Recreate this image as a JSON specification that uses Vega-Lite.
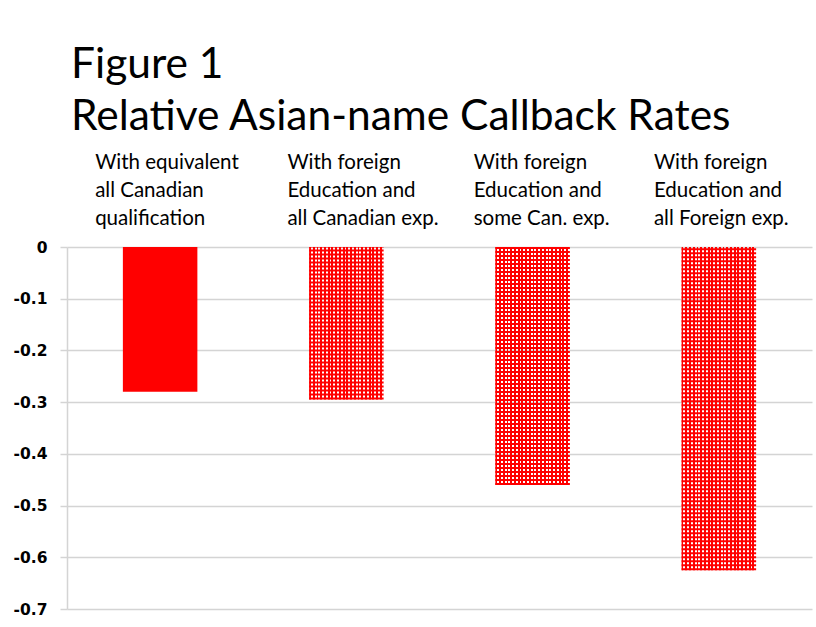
{
  "$schema": "https://vega.github.io/schema/vega-lite/v6.json",
  "width": 745,
  "height": 362,
  "autosize": {"type": "none"},
  "padding": {"left": 67, "top": 247, "right": 4, "bottom": 18},
  "background": "white",
  "config": {"view": {"stroke": null}},
  "title": {
    "text": ["Figure 1", "Relative Asian-name Callback Rates"],
    "anchor": "start",
    "frame": "group",
    "font": "Lato",
    "fontSize": 42.5,
    "fontWeight": "normal",
    "color": "#000000",
    "lineHeight": 52,
    "dx": 4,
    "offset": 14
  },
  "data": {
    "values": [
      {"cat": "With equivalent|all Canadian|qualification", "value": -0.28, "pattern": "solid"},
      {"cat": "With foreign|Education and|all Canadian exp.", "value": -0.295, "pattern": "checked"},
      {"cat": "With foreign|Education and|some Can. exp.", "value": -0.46, "pattern": "checked"},
      {"cat": "With foreign|Education and|all Foreign exp.", "value": -0.625, "pattern": "checked"}
    ]
  },
  "encoding": {
    "x": {
      "field": "cat",
      "type": "nominal",
      "sort": null,
      "scale": {"paddingInner": 0.6, "paddingOuter": 0.3},
      "axis": {
        "orient": "top",
        "title": null,
        "domain": false,
        "ticks": false,
        "grid": false,
        "labelAngle": 0,
        "labelExpr": "split(datum.label, '|')",
        "labelAlign": "left",
        "labelOffset": {
          "condition": {"test": "indexof(datum.value, 'equivalent') >= 0 || indexof(datum.value, 'Foreign') >= 0", "value": -65},
          "value": -59
        },
        "labelFont": "Lato",
        "labelFontSize": 20.5,
        "labelLineHeight": 28,
        "labelColor": "#000000",
        "labelPadding": 79,
        "labelBaseline": "alphabetic",
        "labelLimit": 0,
        "labelOverlap": false
      }
    },
    "y": {
      "field": "value",
      "type": "quantitative",
      "scale": {"domain": [-0.7, 0], "nice": false},
      "axis": {
        "title": null,
        "values": [0, -0.1, -0.2, -0.3, -0.4, -0.5, -0.6, -0.7],
        "labelExpr": "datum.value == 0 ? '0' : '-0.' + round(-datum.value * 10)",
        "labelFont": "DejaVu Sans",
        "labelFontWeight": "bold",
        "labelFontSize": 15.5,
        "labelColor": "#000000",
        "labelPadding": 13,
        "tickSize": 7,
        "tickColor": "#d4d4d4",
        "tickWidth": 1.5,
        "domainColor": "#d4d4d4",
        "domainWidth": 1.5,
        "grid": true,
        "gridColor": "#d4d4d4",
        "gridWidth": 1.5
      }
    }
  },
  "layer": [
    {
      "transform": [{"filter": "datum.pattern == 'solid'"}],
      "mark": {"type": "bar", "color": "#ff0000"}
    },
    {
      "transform": [{"filter": "datum.pattern == 'checked'"}],
      "mark": {"type": "rule", "color": "#ff0000", "strokeWidth": 74.5, "strokeDash": [2, 2]},
      "encoding": {"y2": {"datum": 0}}
    },
    {
      "transform": [{"filter": "datum.pattern == 'checked'"}],
      "mark": {
        "type": "bar",
        "stroke": null,
        "fill": {
          "gradient": "linear",
          "x1": 0, "y1": 0, "x2": 1, "y2": 0,
          "stops": [
            {"offset": 0, "color": "#ff0000"}, {"offset": 0.025, "color": "#ff0000"}, {"offset": 0.025, "color": "rgba(255,0,0,0)"}, {"offset": 0.05, "color": "rgba(255,0,0,0)"},
            {"offset": 0.05, "color": "#ff0000"}, {"offset": 0.075, "color": "#ff0000"}, {"offset": 0.075, "color": "rgba(255,0,0,0)"}, {"offset": 0.1, "color": "rgba(255,0,0,0)"},
            {"offset": 0.1, "color": "#ff0000"}, {"offset": 0.125, "color": "#ff0000"}, {"offset": 0.125, "color": "rgba(255,0,0,0)"}, {"offset": 0.15, "color": "rgba(255,0,0,0)"},
            {"offset": 0.15, "color": "#ff0000"}, {"offset": 0.175, "color": "#ff0000"}, {"offset": 0.175, "color": "rgba(255,0,0,0)"}, {"offset": 0.2, "color": "rgba(255,0,0,0)"},
            {"offset": 0.2, "color": "#ff0000"}, {"offset": 0.225, "color": "#ff0000"}, {"offset": 0.225, "color": "rgba(255,0,0,0)"}, {"offset": 0.25, "color": "rgba(255,0,0,0)"},
            {"offset": 0.25, "color": "#ff0000"}, {"offset": 0.275, "color": "#ff0000"}, {"offset": 0.275, "color": "rgba(255,0,0,0)"}, {"offset": 0.3, "color": "rgba(255,0,0,0)"},
            {"offset": 0.3, "color": "#ff0000"}, {"offset": 0.325, "color": "#ff0000"}, {"offset": 0.325, "color": "rgba(255,0,0,0)"}, {"offset": 0.35, "color": "rgba(255,0,0,0)"},
            {"offset": 0.35, "color": "#ff0000"}, {"offset": 0.375, "color": "#ff0000"}, {"offset": 0.375, "color": "rgba(255,0,0,0)"}, {"offset": 0.4, "color": "rgba(255,0,0,0)"},
            {"offset": 0.4, "color": "#ff0000"}, {"offset": 0.425, "color": "#ff0000"}, {"offset": 0.425, "color": "rgba(255,0,0,0)"}, {"offset": 0.45, "color": "rgba(255,0,0,0)"},
            {"offset": 0.45, "color": "#ff0000"}, {"offset": 0.475, "color": "#ff0000"}, {"offset": 0.475, "color": "rgba(255,0,0,0)"}, {"offset": 0.5, "color": "rgba(255,0,0,0)"},
            {"offset": 0.5, "color": "#ff0000"}, {"offset": 0.525, "color": "#ff0000"}, {"offset": 0.525, "color": "rgba(255,0,0,0)"}, {"offset": 0.55, "color": "rgba(255,0,0,0)"},
            {"offset": 0.55, "color": "#ff0000"}, {"offset": 0.575, "color": "#ff0000"}, {"offset": 0.575, "color": "rgba(255,0,0,0)"}, {"offset": 0.6, "color": "rgba(255,0,0,0)"},
            {"offset": 0.6, "color": "#ff0000"}, {"offset": 0.625, "color": "#ff0000"}, {"offset": 0.625, "color": "rgba(255,0,0,0)"}, {"offset": 0.65, "color": "rgba(255,0,0,0)"},
            {"offset": 0.65, "color": "#ff0000"}, {"offset": 0.675, "color": "#ff0000"}, {"offset": 0.675, "color": "rgba(255,0,0,0)"}, {"offset": 0.7, "color": "rgba(255,0,0,0)"},
            {"offset": 0.7, "color": "#ff0000"}, {"offset": 0.725, "color": "#ff0000"}, {"offset": 0.725, "color": "rgba(255,0,0,0)"}, {"offset": 0.75, "color": "rgba(255,0,0,0)"},
            {"offset": 0.75, "color": "#ff0000"}, {"offset": 0.775, "color": "#ff0000"}, {"offset": 0.775, "color": "rgba(255,0,0,0)"}, {"offset": 0.8, "color": "rgba(255,0,0,0)"},
            {"offset": 0.8, "color": "#ff0000"}, {"offset": 0.825, "color": "#ff0000"}, {"offset": 0.825, "color": "rgba(255,0,0,0)"}, {"offset": 0.85, "color": "rgba(255,0,0,0)"},
            {"offset": 0.85, "color": "#ff0000"}, {"offset": 0.875, "color": "#ff0000"}, {"offset": 0.875, "color": "rgba(255,0,0,0)"}, {"offset": 0.9, "color": "rgba(255,0,0,0)"},
            {"offset": 0.9, "color": "#ff0000"}, {"offset": 0.925, "color": "#ff0000"}, {"offset": 0.925, "color": "rgba(255,0,0,0)"}, {"offset": 0.95, "color": "rgba(255,0,0,0)"},
            {"offset": 0.95, "color": "#ff0000"}, {"offset": 0.975, "color": "#ff0000"}, {"offset": 0.975, "color": "rgba(255,0,0,0)"}, {"offset": 1, "color": "rgba(255,0,0,0)"}
          ]
        }
      }
    }
  ]
}
